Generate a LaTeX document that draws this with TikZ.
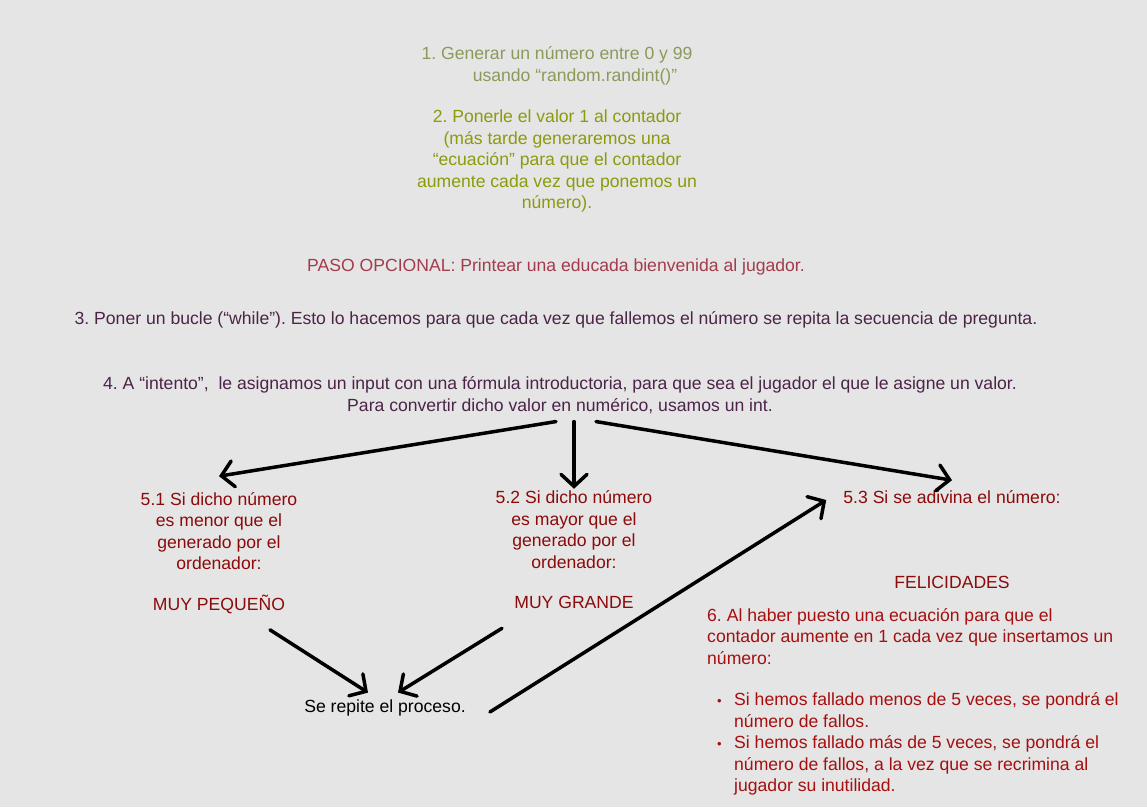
\documentclass[tikz,border=0pt]{standalone}
\usepackage{fontspec}
\setmainfont{Liberation Sans}
\usepackage{xcolor}
\usetikzlibrary{arrows.meta}
\usetikzlibrary{positioning}
\definecolor{fondo}{HTML}{E5E5E5}
\definecolor{verdeuno}{HTML}{8A9A5B}
\definecolor{verdedos}{HTML}{8C9A0C}
\definecolor{rosa}{HTML}{A33B4C}
\definecolor{morado}{HTML}{4B2448}
\definecolor{rojo}{HTML}{8B0A0A}
\definecolor{rojoseis}{HTML}{A50F0F}
\tikzstyle{texto} = [align=center,
	inner sep=0pt,
	font=\fontsize{17.6}{21.5}\selectfont\frenchspacing]
\tikzstyle{flecha} = [-{Straight Barb[length=12pt, width=26pt, line cap=round]}, line width=3.5pt, line cap=round]
\newcommand{\punto}{\hspace*{10pt}\makebox[17pt][l]{\raisebox{0.5pt}{\fontsize{13}{13}\selectfont •}}}

\begin{document}
\begin{tikzpicture}[x=1pt, y=-1pt]
			\fill[fondo] (0,0) rectangle (1147,807);
			\node (paso1) [texto, text=verdeuno] at (557,66) {1. Generar un número entre 0 y 99\\ \hspace*{36pt}usando “random.randint()”};
			\node (paso2) [texto, text=verdedos] at (557,161) {2. Ponerle el valor 1 al contador\\(más tarde generaremos una\\“ecuación” para que el contador\\aumente cada vez que ponemos un\\número).};
			\node (opcional) [texto, text=rosa] at (556,267) {PASO OPCIONAL: Printear una educada bienvenida al jugador.};
			\node (paso3) [texto, text=morado] at (556,320) {3. Poner un bucle (“while”). Esto lo hacemos para que cada vez que fallemos el número se repita la secuencia de pregunta.};
			\node (paso4) [texto, text=morado] at (560,395) {4. A “intento”,\ \ le asignamos un input con una fórmula introductoria, para que sea el jugador el que le asigne un valor.\\Para convertir dicho valor en numérico, usamos un int.};
			
			\node (p51) [texto, text=rojo] at (219,553) {5.1 Si dicho número\\es menor que el\\generado por el\\ordenador:\\[19pt]MUY PEQUEÑO};
			\node (p52) [texto, text=rojo] at (574,550) {5.2 Si dicho número\\es mayor que el\\generado por el\\ordenador:\\[19pt]MUY GRANDE};
			\node (p53) [texto, text=rojo] at (952,497) {5.3 Si se adivina el número:};
			\node (felicidades) [texto, text=rojo] at (952,582) {FELICIDADES};
			\node (repite) [texto] at (385,708) {Se repite el proceso.};
			
			\node (paso6) [texto, text=rojoseis, align=left, anchor=north west] at (707,608) {6. Al haber puesto una ecuación para que el\\contador aumente en 1 cada vez que insertamos un\\número:\\[20pt]\punto Si hemos fallado menos de 5 veces, se pondrá el\\\hspace*{27pt}número de fallos.\\\punto Si hemos fallado más de 5 veces, se pondrá el\\\hspace*{27pt}número de fallos, a la vez que se recrimina al\\\hspace*{27pt}jugador su inutilidad.};
			
			\draw [flecha] ([xshift=-4pt,yshift=-8pt]paso4.south) -- ([yshift=16pt]p51.north);
			\draw [flecha] ([xshift=14pt,yshift=-8pt]paso4.south) -- ([yshift=2pt]p52.north);
			\draw [flecha] ([xshift=36pt,yshift=-8pt]paso4.south) -- ([yshift=10pt]p53.north);
			\draw [flecha] ([xshift=51pt,yshift=-16pt]p51.south) -- ([xshift=-17pt,yshift=7pt]repite.north);
			\draw [flecha] ([xshift=-72pt,yshift=-19pt]p52.south) -- ([xshift=13pt,yshift=7pt]repite.north);
			\draw [flecha] ([xshift=24pt,yshift=-4pt]repite.east) -- ([xshift=-17pt,yshift=-3pt]p53.west);
		\end{tikzpicture}
\end{document}
